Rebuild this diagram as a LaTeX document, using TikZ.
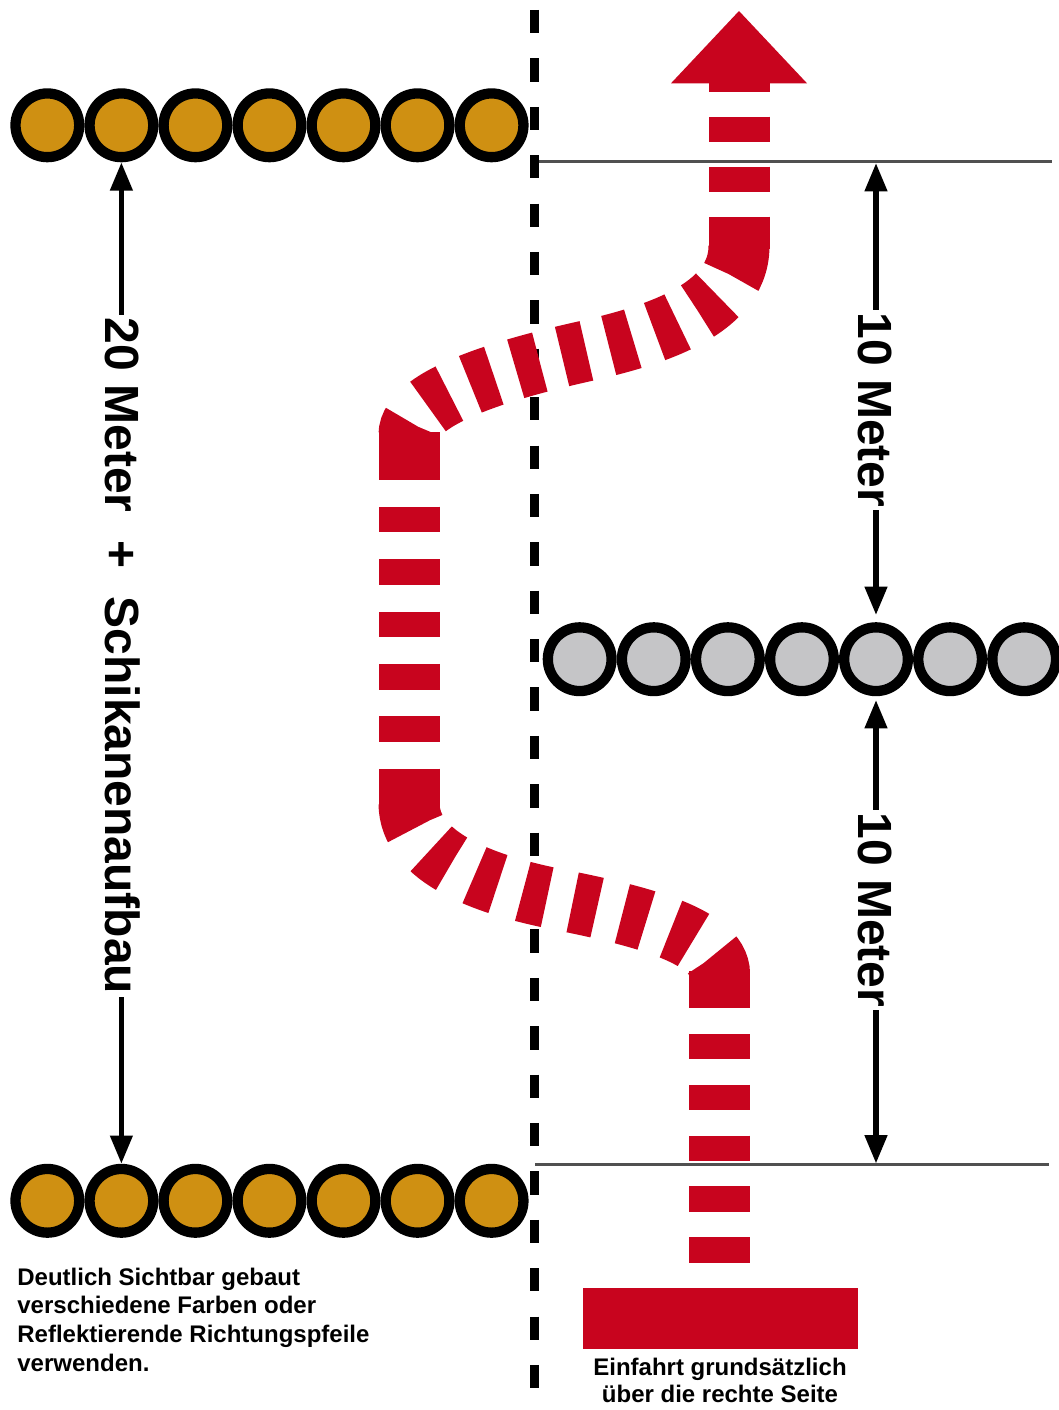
\documentclass[tikz,border=0pt]{standalone}
\usepackage{fontspec}
\setmainfont{Liberation Sans}
\usetikzlibrary{arrows.meta}
\definecolor{roadred}{RGB}{200,4,30}
\definecolor{coneorange}{RGB}{207,144,18}
\definecolor{conegray}{RGB}{197,197,199}
\definecolor{rulegray}{RGB}{80,80,80}
\begin{document}
\begin{tikzpicture}[x=1pt,y=-1pt,
  pylon/.style={circle,draw=black,line width=10.3pt,minimum size=63.7pt,inner sep=0pt},
  orangepylon/.style={pylon,fill=coneorange},
  graypylon/.style={pylon,fill=conegray},
  road/.style={draw=roadred,line width=61pt},
  centerline/.style={draw=black,line width=8.6pt,dash pattern=on 23.3pt off 25.09pt},
  rulerline/.style={draw=rulegray,line width=2.5pt},
  dim/.style={draw=black,line width=5.5pt,arrows={Triangle[width=21.6pt,length=28.3pt]-Triangle[width=21.6pt,length=28.3pt]}},
  dimlabel/.style={rotate=-90,fill=white,inner xsep=2.5pt,inner ysep=0pt,font=\fontsize{48pt}{48pt}\selectfont\bfseries},
  note/.style={inner sep=0pt,font=\fontsize{24pt}{28.8pt}\selectfont\bfseries}
]
\useasboundingbox (0,0) rectangle (1058,1410);

% pylons
\foreach \i in {0,...,6} {
  \node[orangepylon] (t\i) at ({47.35+74.04*\i},125.3) {};
  \node[orangepylon] (b\i) at ({47.35+74.04*\i},1200.8) {};
  \node[graypylon] (g\i) at ({579.7+74.08*\i},659.2) {};
}

% reference lines
\coordinate (rtl) at (539,161.7);
\coordinate (rtr) at (1052,161.7);
\coordinate (rbl) at (535.4,1164.3);
\coordinate (rbr) at (1048.5,1164.3);
\draw[rulerline] (rtl) -- (rtr);
\draw[rulerline] (rbl) -- (rbr);

% centre line
\coordinate (cl0) at (534.6,10);
\coordinate (cl1) at (534.6,1389);
\draw[centerline] (cl0) -- (cl1);

% red driving path
\fill[roadred] (671,83.3) -- (739,11) -- (807,83.3) -- cycle;
\draw[road,dash pattern=on 31pt off 24.4pt on 25pt off 22.95pt on 25pt off 22.95pt on 25pt off 22.95pt on 25pt off 22.95pt on 25pt off 22.95pt on 25pt off 22.95pt on 25pt off 23.2pt on 200pt]
  (739,246) .. controls (739,316) and (635.5,339.7) .. (577,353)
            .. controls (518.5,366.35) and (409,395) .. (409,435);
\draw[road,dash pattern=on 26pt off 26.5pt on 25pt off 26pt on 25pt off 26pt on 25pt off 26pt on 25pt off 26pt on 25pt off 26pt on 25pt off 25pt on 200pt]
  (409,803) .. controls (409,858) and (486,885) .. (556,899)
            .. controls (631,914) and (719.5,934) .. (719.5,974);
\draw[road,dash pattern=on 9.4pt off 25pt on 25pt off 25pt on 25pt off 25pt on 200pt]
  (739,82.3) -- (739,249);
\draw[road,dash pattern=on 48pt off 26.7pt on 25.6pt off 26.8pt on 25.6pt off 26.8pt on 25.6pt off 26.8pt on 25.6pt off 26.8pt on 25.6pt off 26.7pt on 100pt]
  (409,432) -- (409,806);
\draw[road,dash pattern=on 37pt off 26pt on 25.3pt off 25.5pt on 25.3pt off 25.5pt on 25.3pt off 25.5pt on 25.3pt off 25.5pt on 40pt]
  (719.5,971) -- (719.5,1262.7);
\fill[roadred] (583,1288.3) rectangle (858,1349);

% dimension arrows
\draw[dim] (t1.south) -- (b1.north);
\coordinate (a1s) at (876,163);
\coordinate (a1e) at (876,615);
\coordinate (a2s) at (876,700);
\coordinate (a2e) at (876,1163.5);
\draw[dim] (a1s) -- (a1e);
\draw[dim] (a2s) -- (a2e);

\node[dimlabel] (lbl20) at (123,656) {20 Meter\hspace{28pt}+\hspace{28pt}Schikanenaufbau};
\node[dimlabel] (lbl10a) at (875,410) {10 Meter};
\node[dimlabel] (lbl10b) at (875,910) {10 Meter};

% notes
\node[note,anchor=base west] (n1) at (17.2,1285) {Deutlich Sichtbar gebaut};
\node[note,anchor=base west] (n2) at (17.2,1313.8) {verschiedene Farben oder};
\node[note,anchor=base west] (n3) at (17.2,1342.6) {Reflektierende Richtungspfeile};
\node[note,anchor=base west] (n4) at (17.2,1371.4) {verwenden.};
\node[note,anchor=base] (n5) at (720,1375) {Einfahrt grundsätzlich};
\node[note,anchor=base] (n6) at (720,1402.5) {über die rechte Seite};
\end{tikzpicture}
\end{document}
